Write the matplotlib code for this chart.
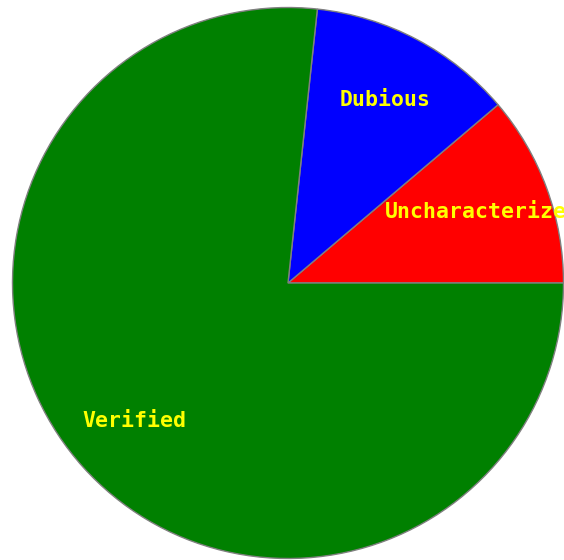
import matplotlib
matplotlib.use("Agg")
import matplotlib.pyplot as plt
import numpy as np

categories = ["Uncharacterized", "Dubious", "Verified"]
values = [11.2, 12.1, 76.7]
colors = ["#ff0000", "#0000ff", "#008000"]

fig = plt.figure(figsize=(5.64, 5.6), dpi=100)
ax = fig.add_axes([0, 0, 1, 1])
wedges, _ = ax.pie(values, colors=colors, startangle=0, counterclock=True,
                   wedgeprops=dict(edgecolor="#808080", linewidth=1.0))

R = 275.5
cx, cy = 288, 283
ax.set_xlim(-cx / R, (564 - cx) / R)
ax.set_ylim(-(560 - cy) / R, cy / R)
ax.set_aspect("auto")
ax.axis("off")

for w, lab in zip(wedges, categories):
    mid = np.deg2rad((w.theta1 + w.theta2) / 2)
    r = 0.75
    ax.text(r * np.cos(mid), r * np.sin(mid), lab, ha="center", va="center",
            color="#ffff00", fontsize=15.5, fontweight="bold",
            family="DejaVu Sans Mono")

fig.savefig("out.png", dpi=100)
